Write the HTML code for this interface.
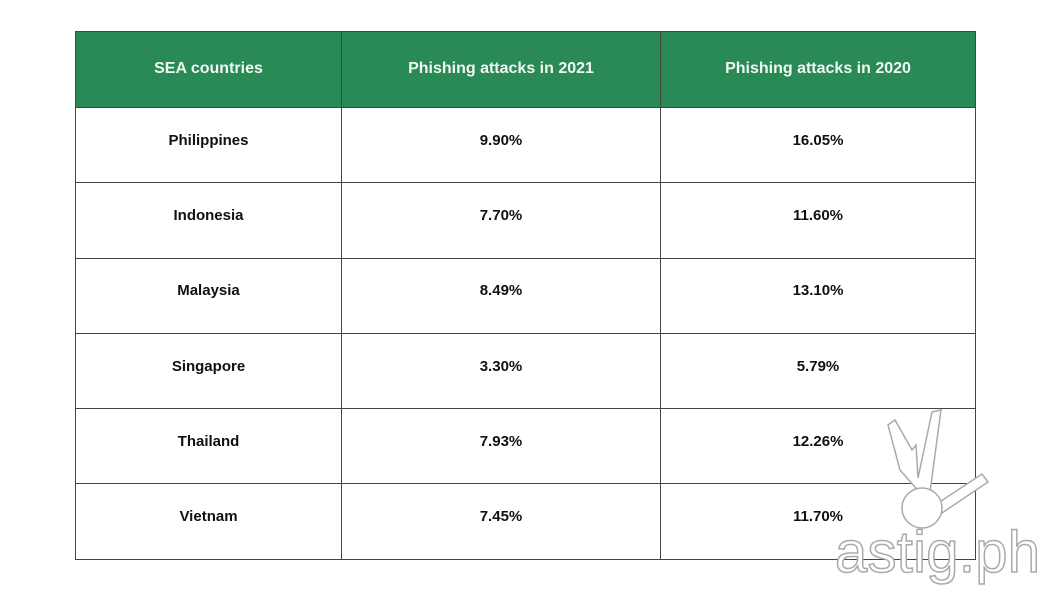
<!DOCTYPE html>
<html><head><meta charset="utf-8"><style>
body{margin:0;width:1050px;height:591px;background:#fff;position:relative;overflow:hidden;font-family:"Liberation Sans",Arial,sans-serif}
table{position:absolute;left:75px;top:31px;border-collapse:collapse;width:901px;table-layout:fixed}
td,th{border:1px solid #444;text-align:center;font-weight:bold;font-size:15px;color:#111;padding:0}
td{height:64.3px;padding-bottom:10px}
th{background:#2a8a56;color:#f2f7f2;height:73px;font-size:16px;padding-bottom:2px}
.c1{width:265px}.c2{width:318px}
svg{position:absolute;left:0;top:0}
</style></head><body>
<table>
<tr><th class="c1">SEA countries</th><th class="c2">Phishing attacks in 2021</th><th>Phishing attacks in 2020</th></tr>
<tr><td>Philippines</td><td>9.90%</td><td>16.05%</td></tr>
<tr><td>Indonesia</td><td>7.70%</td><td>11.60%</td></tr>
<tr><td>Malaysia</td><td>8.49%</td><td>13.10%</td></tr>
<tr><td>Singapore</td><td>3.30%</td><td>5.79%</td></tr>
<tr><td>Thailand</td><td>7.93%</td><td>12.26%</td></tr>
<tr><td>Vietnam</td><td>7.45%</td><td>11.70%</td></tr>
</table>
<svg width="1050" height="591">
<g fill="#fff" stroke="#aaa" stroke-width="1.5">
<path d="M888,425 L895,420 L912,450 L916,445 L918,478 L932,412 L941,410 L930,492 L922,495 L900,470 Z"/>
<path d="M935,505 L982,474 L988,482 L942,513 Z"/>
<circle cx="922" cy="508" r="20"/>
<text x="835" y="572" font-family="Liberation Sans, sans-serif" font-size="58" stroke="#aaa" textLength="205">astig.ph</text>
</g>
</svg>
</body></html>
